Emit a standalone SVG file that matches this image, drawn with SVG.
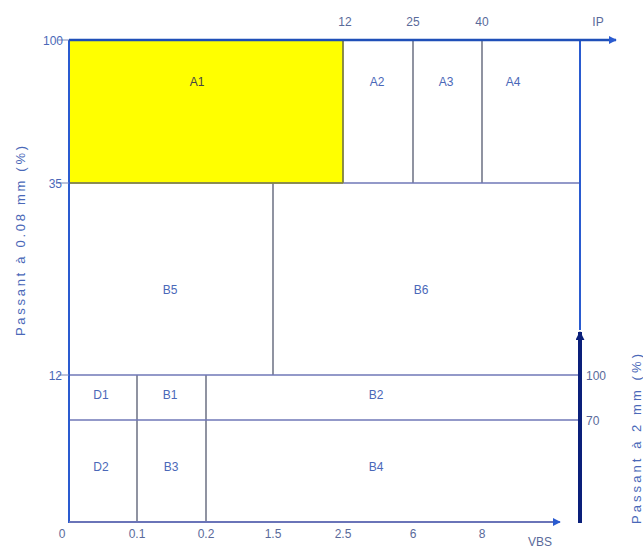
<svg xmlns="http://www.w3.org/2000/svg" width="643" height="551" viewBox="0 0 643 551">
<style>
text{font-family:"Liberation Sans",Arial,sans-serif;font-size:12px;fill:#4a68b8}
.lab{text-anchor:middle}
.ax{stroke:#2a5bd0;stroke-width:2;fill:none}
.grid{stroke:#555a70;stroke-width:1.3;fill:none}
.hgrid{stroke:#7078b8;stroke-width:1.5;fill:none}
.tick{text-anchor:middle;fill:#5a6a9a}
</style>
<defs>
<marker id="arr" viewBox="0 0 10 10" refX="9" refY="5" markerWidth="8" markerHeight="8" markerUnits="userSpaceOnUse" orient="auto"><path d="M0,0 L10,5 L0,10 z" fill="#2a5bd0"/></marker>
<marker id="arrn" viewBox="0 0 10 10" refX="9" refY="5" markerWidth="9" markerHeight="9" markerUnits="userSpaceOnUse" orient="auto"><path d="M0,0 L10,5 L0,10 z" fill="#0a1f7a"/></marker>
</defs>
<rect width="643" height="551" fill="#fff"/>
<g id="A1"><rect x="69" y="40" width="274" height="143" fill="#ffff00"/><text x="197" y="86" class="lab" style="fill:#444">A1</text></g>
<g id="A2"><text x="377" y="86" class="lab">A2</text></g>
<g id="A3"><text x="446" y="86" class="lab">A3</text></g>
<g id="A4"><text x="513" y="86" class="lab">A4</text></g>
<g id="B5"><text x="170" y="294" class="lab">B5</text></g>
<g id="B6"><text x="421" y="294" class="lab">B6</text></g>
<g id="D1"><text x="101" y="399" class="lab">D1</text></g>
<g id="B1"><text x="170" y="399" class="lab">B1</text></g>
<g id="B2"><text x="376" y="399" class="lab">B2</text></g>
<g id="D2"><text x="101" y="471" class="lab">D2</text></g>
<g id="B3"><text x="171" y="471" class="lab">B3</text></g>
<g id="B4"><text x="376" y="471" class="lab">B4</text></g>
<g id="connectors">
<path class="grid" d="M343 40V183M413 40V183M482 40V183M273 183V375M137 375V522M206 375V522"/>
<path class="hgrid" d="M69 183H580M69 375H580M69 420H580"/>
<path d="M343 40V183" stroke="#8a8a30" stroke-width="1.3"/>
<path d="M69 183H343" stroke="#8a8a30" stroke-width="1.3"/>
<path class="ax" d="M580 40V330"/>
<path class="ax" d="M69 523V40"/>
<path d="M69 40H616" stroke="#1f4fb8" stroke-width="2.5" fill="none" marker-end="url(#arr)"/>
<path d="M69 522H560" stroke="#6a74b8" stroke-width="1.8" fill="none" marker-end="url(#arr)"/>
<path d="M580 523V332" stroke="#0a1f7a" stroke-width="4" fill="none" marker-end="url(#arrn)"/>
<path d="M58 40H69M58 183H69M58 375H69" stroke="#7a88b8" stroke-width="1.2"/>
</g>
<g id="axis-labels">
<text x="63" y="45" style="text-anchor:end">100</text>
<text x="62" y="188" style="text-anchor:end">35</text>
<text x="62" y="380" style="text-anchor:end">12</text>
<text x="62" y="538" class="tick">0</text>
<text x="137" y="538" class="tick">0.1</text>
<text x="206" y="538" class="tick">0.2</text>
<text x="273" y="538" class="tick">1.5</text>
<text x="343" y="538" class="tick">2.5</text>
<text x="413" y="538" class="tick">6</text>
<text x="482" y="538" class="tick">8</text>
<text x="540" y="546" class="tick">VBS</text>
<text x="345" y="26" class="tick">12</text>
<text x="413" y="26" class="tick">25</text>
<text x="482" y="26" class="tick">40</text>
<text x="598" y="26" class="tick">IP</text>
<text x="586" y="380" style="fill:#5a6a9a">100</text>
<text x="586" y="425" style="fill:#5a6a9a">70</text>
<text transform="translate(25,241) rotate(-90)" class="lab" style="font-size:13px" textLength="190" lengthAdjust="spacing">Passant à 0.08 mm (%)</text>
<text transform="translate(641,439) rotate(-90)" class="lab" style="font-size:13px" textLength="170" lengthAdjust="spacing">Passant à 2 mm (%)</text>
</g>
</svg>
